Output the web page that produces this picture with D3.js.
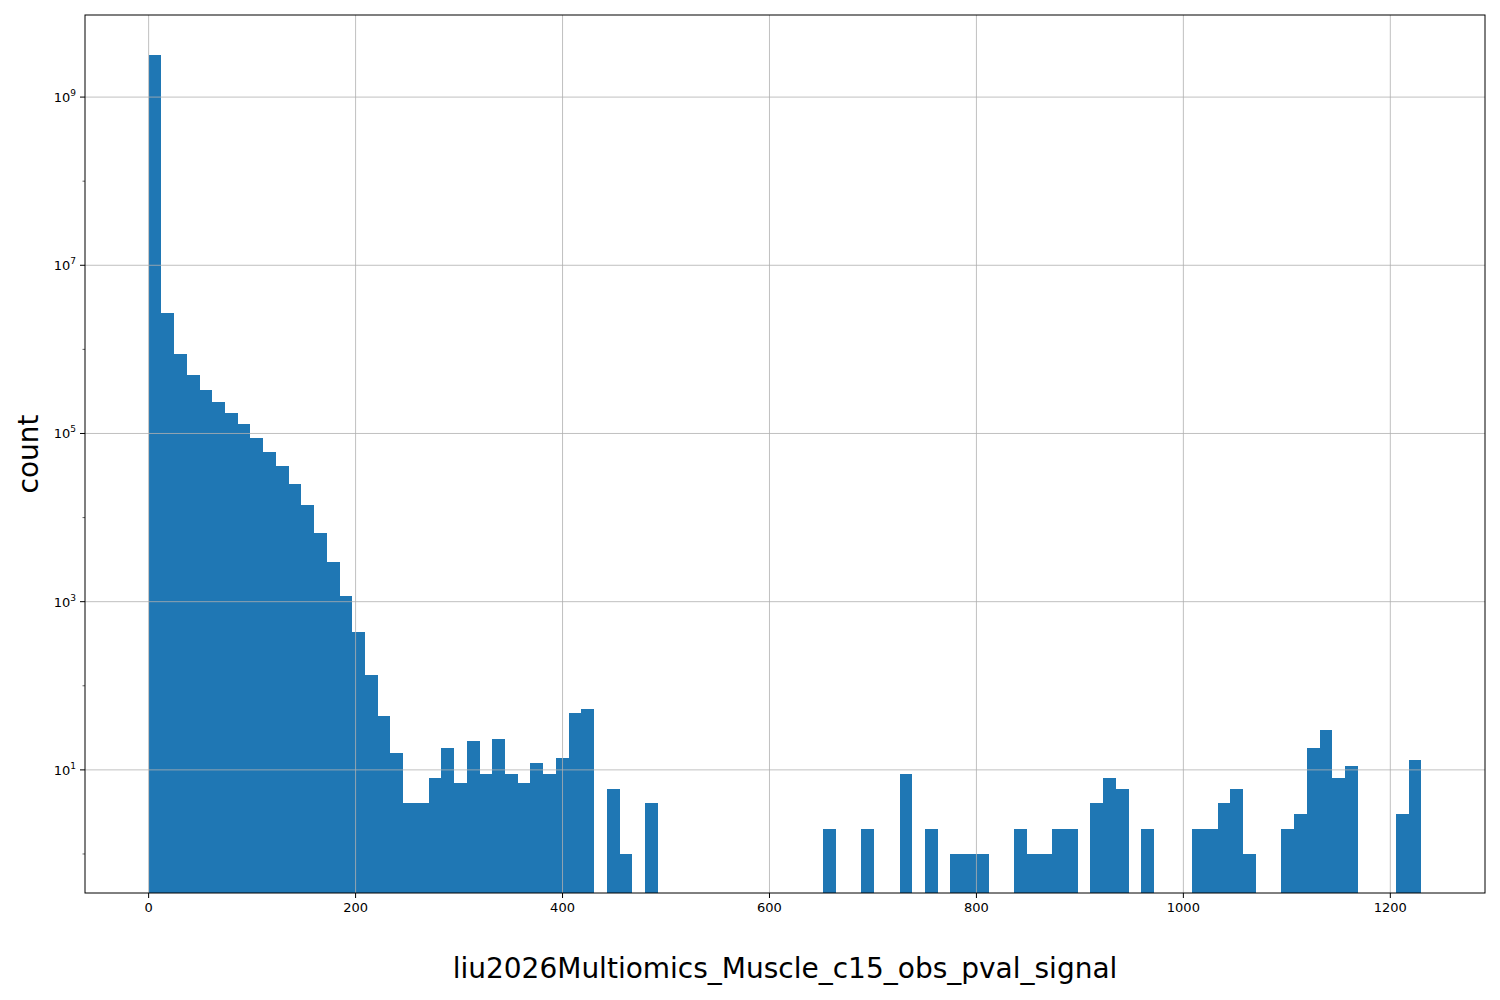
<!DOCTYPE html>
<html><head><meta charset="utf-8">
<script src="https://cdn.jsdelivr.net/npm/d3@7"></script>
<style>body{margin:0;background:#fff}svg{font-family:"DejaVu Sans",sans-serif}</style>
</head><body>
<svg id="c" width="1500" height="1000"></svg>
<script>
const binStart = 0, binEnd = 1230, nBins = 100;
const binIndex = [0,1,2,3,4,5,6,7,8,9,10,11,12,13,14,15,16,17,18,19,20,21,22,23,24,25,26,27,28,29,30,31,32,33,34,36,37,39,53,56,59,61,63,64,65,68,69,70,71,72,74,75,76,78,82,83,84,85,86,89,90,91,92,93,94,98,99];
const binCount = [3.2e9,2.7e6,8.7e5,5.0e5,3.3e5,2.4e5,1.74e5,1.28e5,8.9e4,6.1e4,4.1e4,2.5e4,1.43e4,6.6e3,3.0e3,1180,440,135,44,16,4,4,8,18,7,22,9,23,9,7,12,9,14,48,53,6,1,4,2,2,9,2,1,1,1,2,1,1,2,2,4,8,6,2,2,2,4,6,1,2,3,18,30,8,11,3,13];
const xTicks = [0,200,400,600,800,1000,1200];
const yTickExp = [1,3,5,7,9];

const svg = d3.select("#c");
const L=85,R=1485,T=15,B=893;
const x = d3.scaleLinear().domain([-61.5,1291.5]).range([L,R]);
const y = d3.scaleLog().domain([Math.pow(10,-0.464),Math.pow(10,9.976)]).range([B,T]);
const w = (binEnd-binStart)/nBins;

svg.append("g").selectAll("rect").data(binIndex).join("rect")
  .attr("x",i=>x(binStart+i*w)).attr("width",(i)=>x(binStart+(i+1)*w)-x(binStart+i*w))
  .attr("y",(i,k)=>y(binCount[k])).attr("height",(i,k)=>B-y(binCount[k]))
  .attr("fill","#1f77b4").attr("shape-rendering","crispEdges");

const g = svg.append("g").attr("stroke","#b0b0b0").attr("stroke-width",0.8);
xTicks.forEach(v=>g.append("line").attr("x1",x(v)).attr("x2",x(v)).attr("y1",T).attr("y2",B));
yTickExp.forEach(e=>g.append("line").attr("x1",L).attr("x2",R).attr("y1",y(10**e)).attr("y2",y(10**e)));

svg.append("rect").attr("x",L).attr("y",T).attr("width",R-L).attr("height",B-T).attr("fill","none").attr("stroke","#000").attr("stroke-width",1);

xTicks.forEach(v=>{
  svg.append("line").attr("x1",x(v)).attr("x2",x(v)).attr("y1",B).attr("y2",B+5).attr("stroke","#000");
  svg.append("text").attr("x",x(v)).attr("y",B+19).attr("text-anchor","middle").attr("font-size",13).text(v);
});
yTickExp.forEach(e=>{
  const yy=y(10**e);
  svg.append("line").attr("x1",L-5).attr("x2",L).attr("y1",yy).attr("y2",yy).attr("stroke","#000");
  const t=svg.append("text").attr("x",L-9).attr("y",yy+5).attr("text-anchor","end").attr("font-size",13);
  t.append("tspan").text("10");
  t.append("tspan").attr("dy",-6).attr("font-size",9).text(e);
});
for(let e=0;e<10;e+=2){const v=10**e;svg.append("line").attr("x1",L-2.5).attr("x2",L).attr("y1",y(v)).attr("y2",y(v)).attr("stroke","#000").attr("stroke-width",0.6);}

svg.append("text").attr("x",(L+R)/2).attr("y",978).attr("text-anchor","middle").attr("font-size",28).text("liu2026Multiomics_Muscle_c15_obs_pval_signal");
svg.append("text").attr("transform",`translate(38,${(T+B)/2}) rotate(-90)`).attr("text-anchor","middle").attr("font-size",28).text("count");
</script></body></html>
